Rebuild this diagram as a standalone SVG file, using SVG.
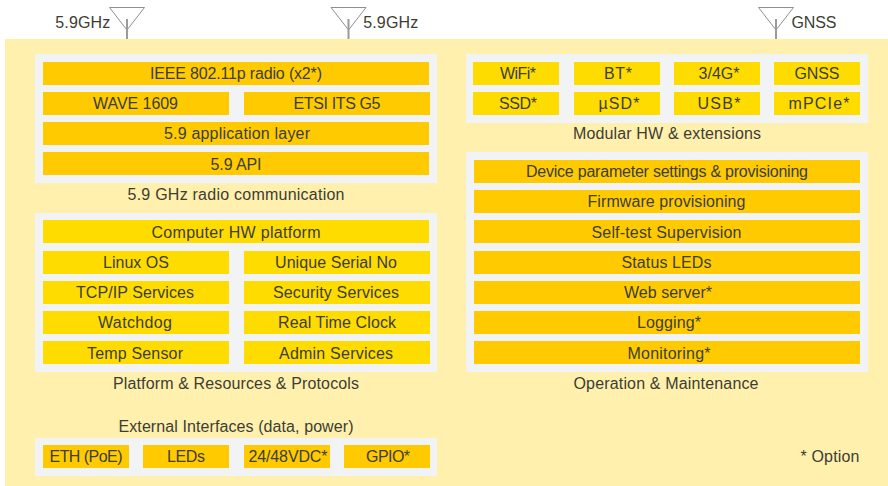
<svg xmlns="http://www.w3.org/2000/svg" width="888" height="486" viewBox="0 0 888 486">
<defs><style>
text{font-family:"Liberation Sans",Arial,sans-serif;font-size:16px;fill:#3d3d33;text-anchor:middle}
.bg{fill:#fff0ad}.panel{fill:#f1f3f5}.o{fill:#ffcb00}.y{fill:#ffdc00}
.ant{fill:none;stroke:#8f8f8f;stroke-width:1}.mast{fill:none;stroke:#9a9a9a;stroke-width:2}
</style>
<g id="antenna"><path class="ant" d="M-17.5 7.5H17.5L0 30Z"/><path class="mast" d="M0 19V39"/></g>
</defs>
<rect width="888" height="486" fill="#fff"/>
<rect id="background" class="bg" x="5" y="39" width="883" height="447"/>
<g id="ant1"><use href="#antenna" x="127"/><text x="82.8" y="28" textLength="55">5.9GHz</text></g>
<g id="ant2"><use href="#antenna" x="348.5"/><text x="390.7" y="28" textLength="55">5.9GHz</text></g>
<g id="ant3"><use href="#antenna" x="776"/><text x="814" y="28" textLength="45">GNSS</text></g>

<g id="radio"><rect class="panel" x="35" y="54" width="402" height="129"/>
<g id="n-ieee"><rect class="o" x="43" y="62" width="386" height="23"/><text x="236" y="79" textLength="172">IEEE 802.11p radio (x2*)</text></g>
<g id="n-wave"><rect class="o" x="43" y="92" width="186" height="23"/><text x="135.5" y="109" textLength="85">WAVE 1609</text></g>
<g id="n-etsi"><rect class="o" x="244" y="92" width="186" height="23"/><text x="337" y="109" textLength="87">ETSI ITS G5</text></g>
<g id="n-app"><rect class="o" x="43" y="122" width="386" height="23"/><text x="237" y="139" textLength="146">5.9 application layer</text></g>
<g id="n-api"><rect class="o" x="43" y="152" width="386" height="23"/><text x="236" y="170" textLength="51">5.9 API</text></g>
<text x="236" y="200" textLength="217">5.9 GHz radio communication</text></g>

<g id="platform"><rect class="panel" x="35" y="213" width="402" height="159"/>
<g id="n-hw"><rect class="y" x="43" y="220" width="386" height="23"/><text x="236" y="238" textLength="169">Computer HW platform</text></g>
<g id="n-linux"><rect class="y" x="43" y="251" width="186" height="23"/><text x="136" y="268" textLength="66">Linux OS</text></g>
<g id="n-serial"><rect class="y" x="244" y="251" width="186" height="23"/><text x="336" y="268" textLength="122">Unique Serial No</text></g>
<g id="n-tcp"><rect class="y" x="43" y="281" width="186" height="23"/><text x="135" y="298" textLength="118">TCP/IP Services</text></g>
<g id="n-sec"><rect class="y" x="244" y="281" width="186" height="23"/><text x="336" y="298" textLength="126">Security Services</text></g>
<g id="n-wd"><rect class="y" x="43" y="311" width="186" height="23"/><text x="135" y="328" textLength="74">Watchdog</text></g>
<g id="n-rtc"><rect class="y" x="244" y="311" width="186" height="23"/><text x="337" y="328" textLength="118">Real Time Clock</text></g>
<g id="n-temp"><rect class="y" x="43" y="341" width="186" height="23"/><text x="135" y="359" textLength="96">Temp Sensor</text></g>
<g id="n-admin"><rect class="y" x="244" y="341" width="186" height="23"/><text x="336" y="359" textLength="114">Admin Services</text></g>
<text x="236" y="389" textLength="246">Platform &amp; Resources &amp; Protocols</text></g>

<g id="external"><text x="236" y="432" textLength="235">External Interfaces (data, power)</text>
<rect class="panel" x="35" y="438" width="402" height="38"/>
<g id="n-eth"><rect class="o" x="43" y="445" width="86" height="23"/><text x="86" y="462" textLength="73">ETH (PoE)</text></g>
<g id="n-leds"><rect class="o" x="143" y="445" width="86" height="23"/><text x="186" y="462" textLength="38">LEDs</text></g>
<g id="n-vdc"><rect class="o" x="244" y="445" width="86" height="23"/><text x="288" y="462" textLength="79">24/48VDC*</text></g>
<g id="n-gpio"><rect class="o" x="344" y="445" width="86" height="23"/><text x="388" y="462" textLength="44">GPIO*</text></g></g>

<g id="modular"><rect class="panel" x="466" y="54" width="402" height="69"/>
<g id="n-wifi"><rect class="y" x="473" y="62" width="86" height="23"/><text x="518" y="79" textLength="36">WiFi*</text></g>
<g id="n-bt"><rect class="y" x="574" y="62" width="86" height="23"/><text x="618" y="79" textLength="28">BT*</text></g>
<g id="n-4g"><rect class="y" x="674" y="62" width="86" height="23"/><text x="719" y="79" textLength="41">3/4G*</text></g>
<g id="n-gnss"><rect class="y" x="774" y="62" width="86" height="23"/><text x="817" y="79" textLength="45">GNSS</text></g>
<g id="n-ssd"><rect class="y" x="473" y="92" width="86" height="23"/><text x="518" y="109" textLength="38">SSD*</text></g>
<g id="n-usd"><rect class="y" x="574" y="92" width="86" height="23"/><text x="619" y="109" textLength="41">µSD*</text></g>
<g id="n-usb"><rect class="y" x="674" y="92" width="86" height="23"/><text x="719" y="109" textLength="43">USB*</text></g>
<g id="n-mpcie"><rect class="y" x="774" y="92" width="86" height="23"/><text x="819" y="109" textLength="61">mPCIe*</text></g>
<text x="667" y="139" textLength="188">Modular HW &amp; extensions</text></g>

<g id="operation"><rect class="panel" x="466" y="152" width="402" height="220"/>
<g id="n-dev"><rect class="o" x="474" y="160" width="386" height="23"/><text x="667" y="177" textLength="282">Device parameter settings &amp; provisioning</text></g>
<g id="n-fw"><rect class="o" x="474" y="190" width="386" height="23"/><text x="666.5" y="207" textLength="158">Firmware provisioning</text></g>
<g id="n-self"><rect class="o" x="474" y="220" width="386" height="23"/><text x="666.5" y="238" textLength="150">Self-test Supervision</text></g>
<g id="n-status"><rect class="o" x="474" y="251" width="386" height="23"/><text x="666.5" y="268" textLength="90">Status LEDs</text></g>
<g id="n-web"><rect class="o" x="474" y="281" width="386" height="23"/><text x="668" y="298" textLength="88">Web server*</text></g>
<g id="n-log"><rect class="o" x="474" y="311" width="386" height="23"/><text x="669" y="328" textLength="64">Logging*</text></g>
<g id="n-mon"><rect class="o" x="474" y="341" width="386" height="23"/><text x="669" y="359" textLength="83">Monitoring*</text></g>
<text x="666" y="389" textLength="185">Operation &amp; Maintenance</text></g>
<text id="legend" x="830" y="462" textLength="59">* Option</text>
<g id="connectors"/>
</svg>
